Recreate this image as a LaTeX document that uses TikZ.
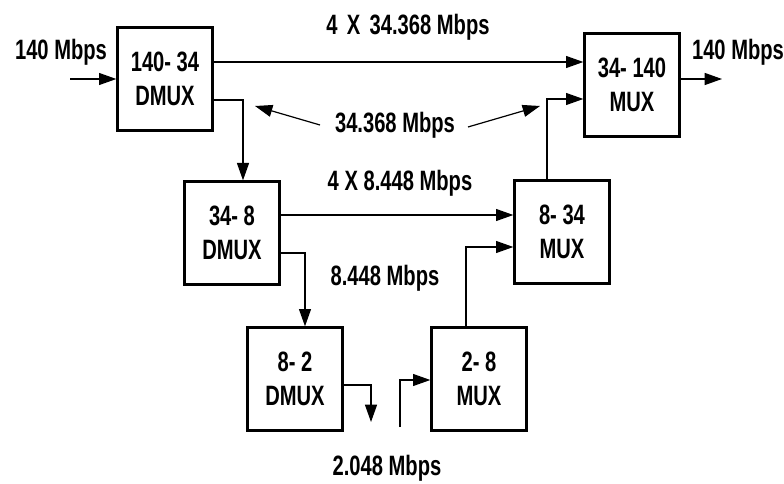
\documentclass[tikz,border=0pt]{standalone}
\usepackage{fontspec}
\setmainfont{Liberation Sans}[FakeStretch=0.72]
\usetikzlibrary{arrows.meta}

\tikzset{
  muxbox/.style={draw, line width=2pt, minimum width=71pt, minimum height=77pt,
    align=center, inner sep=0pt, font=\bfseries\fontsize{21}{25}\selectfont},
  rate/.style={inner sep=0pt, font=\bfseries\fontsize{21}{25}\selectfont},
  link/.style={line width=0.9pt, -{Triangle[length=13pt,width=9pt]}}
}

\begin{document}
\begin{tikzpicture}[x=0.75pt, y=-0.75pt]
    \useasboundingbox (0,0) rectangle (784,484);

    % multiplexer boxes
    \node[muxbox] (dm1) at (165,79) {140- 34\\DMUX};
    \node[muxbox] (dm2) at (232,233) {34- 8\\DMUX};
    \node[muxbox] (dm3) at (295,379) {8- 2\\DMUX};
    \node[muxbox] (mx3) at (479,379) {2- 8\\MUX};
    \node[muxbox] (mx2) at (562,232) {8- 34\\MUX};
    \node[muxbox] (mx1) at (632,85) {34- 140\\MUX};

    % rates
    \node[rate] (in140) at (61,52) {140 Mbps};
    \node[rate] (out140) at (738,52) {140 Mbps};
    \node[rate] (r34x4) at (408,27) {4\hspace{7pt}X\hspace{7pt}34.368 Mbps};
    \node[rate] (r34) at (395,125) {34.368 Mbps};
    \node[rate] (r8x4) at (400,183) {4 X 8.448 Mbps};
    \node[rate] (r8) at (385,278) {8.448 Mbps};
    \node[rate] (r2) at (387,468) {2.048 Mbps};

    \coordinate (src) at (70,79);
    \coordinate (sink) at (722,79);
    \coordinate (y62) at (0,62);
    \coordinate (y215) at (0,215);
    \coordinate (k1) at (243,100);
    \coordinate (k2) at (547,99);
    \coordinate (k3) at (305,253);
    \coordinate (k4) at (371,385);
    \coordinate (e4) at (371,422);
    \coordinate (s5) at (400,427);
    \coordinate (k5) at (400,380);
    \coordinate (k6) at (466,247);
    \coordinate (qa) at (320,125);
    \coordinate (pa) at (255,106);
    \coordinate (qb) at (468,127);
    \coordinate (pb) at (540,106);

    % demultiplexing side
    \draw[link] (src) -- (dm1.west);
    \draw[link] (dm1.east |- y62) -- (mx1.west |- y62);
    \draw[link] (dm1.east |- k1) -- (k1) -- (k1 |- dm2.north);
    \draw[link] (dm2.east |- y215) -- (mx2.west |- y215);
    \draw[link] (dm2.east |- k3) -- (k3) -- (k3 |- dm3.north);
    \draw[link] (dm3.east |- k4) -- (k4) -- (e4);

    % multiplexing side
    \draw[link] (s5) -- (k5) -- (mx3.west |- k5);
    \draw[link] (mx3.north -| k6) -- (k6) -- (mx2.west |- k6);
    \draw[link] (mx2.north -| k2) -- (k2) -- (mx1.west |- k2);
    \draw[link] (mx1.east |- sink) -- (sink);

    \draw[link] (qa) -- (pa);
    \draw[link] (qb) -- (pb);
\end{tikzpicture}
\end{document}
